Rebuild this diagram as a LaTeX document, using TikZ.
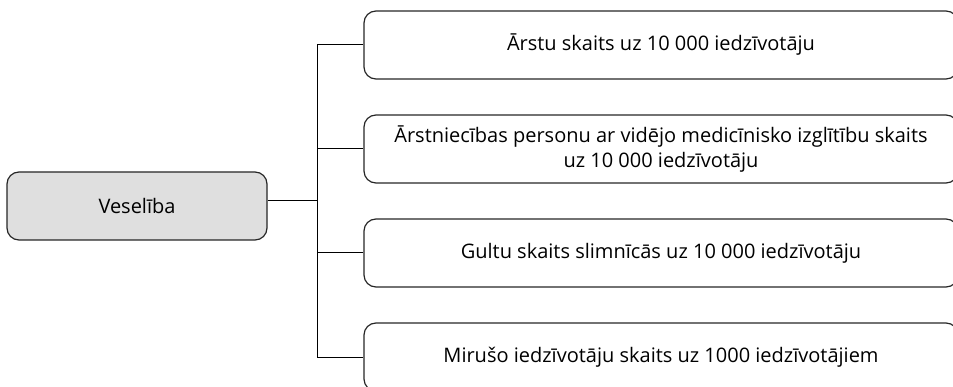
\documentclass[tikz,border=0pt]{standalone}
\usepackage{fontspec}
\setmainfont{Open Sans}
\begin{document}
\begin{tikzpicture}[x=1pt, y=-1pt,
    leaf/.style={draw=black!85, line width=1.2pt, rounded corners=12pt, minimum width=594pt, minimum height=68pt, align=center, font=\fontsize{20}{25}\selectfont},
    root/.style={leaf, fill=gray!25, minimum width=260pt},
    link/.style={line width=1pt}]
    \useasboundingbox (0,0) rectangle (953,387);
    \node[root] (vesel) at (137,206) {Veselība};
    \node[leaf] (arsti) at (661,45) {Ārstu skaits uz 10 000 iedzīvotāju};
    \node[leaf] (arstn) at (661,149) {Ārstniecības personu ar vidējo medicīnisko izglītību skaits\\uz 10 000 iedzīvotāju};
    \node[leaf] (gultas) at (661,253) {Gultu skaits slimnīcās uz 10 000 iedzīvotāju};
    \node[leaf] (mirusi) at (661,357) {Mirušo iedzīvotāju skaits uz 1000 iedzīvotājiem};
    \coordinate (spine) at (317,201);
    \draw[link] ([yshift=5pt]vesel.east) -- (spine);
    \draw[link] (arsti.west) -- (arsti.west -| spine) -- (mirusi.west -| spine) -- (mirusi.west);
    \foreach \n in {arstn, gultas}
        \draw[link] (\n.west) -- (\n.west -| spine);
\end{tikzpicture}
\end{document}
